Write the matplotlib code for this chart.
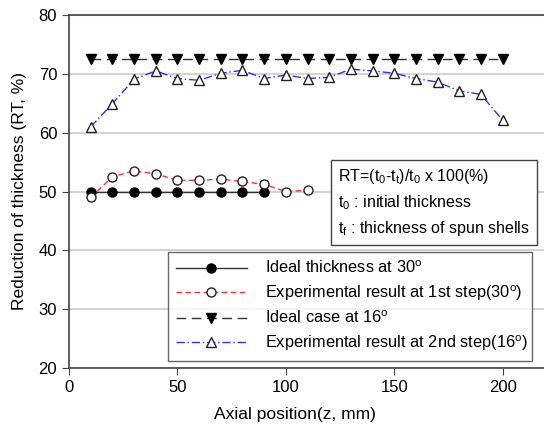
import matplotlib
matplotlib.use("Agg")
import matplotlib.pyplot as plt

plt.rcParams['font.family'] = ['Liberation Sans', 'DejaVu Sans']
plt.rcParams['mathtext.fontset'] = 'custom'
plt.rcParams['mathtext.rm'] = 'Liberation Sans'
plt.rcParams['mathtext.it'] = 'Liberation Sans:italic'

# axial positions (mm)
z_30 = [10, 20, 30, 40, 50, 60, 70, 80, 90]
ideal_30 = [50, 50, 50, 50, 50, 50, 50, 50, 50]

z_exp1 = [10, 20, 30, 40, 50, 60, 70, 80, 90, 100, 110]
exp_1st = [49.0, 52.5, 53.5, 53.0, 51.9, 51.9, 52.1, 51.7, 51.2, 50.0, 50.2]

z_16 = [10, 20, 30, 40, 50, 60, 70, 80, 90, 100,
        110, 120, 130, 140, 150, 160, 170, 180, 190, 200]
ideal_16 = [72.5] * 20
exp_2nd = [61.0, 64.9, 69.1, 70.5, 69.2, 68.9, 70.1, 70.6, 69.2, 69.8,
           69.2, 69.4, 70.8, 70.5, 70.1, 69.2, 68.6, 67.1, 66.5, 62.1]

labels = ['Ideal thickness at 30$^{\\mathrm{o}}$',
          'Experimental result at 1st step(30$^{\\mathrm{o}}$)',
          'Ideal case at 16$^{\\mathrm{o}}$',
          'Experimental result at 2nd step(16$^{\\mathrm{o}}$)']

fig = plt.figure(figsize=(5.44, 4.34), dpi=100)
ax = fig.add_axes([69/544, 1 - 368/434, 477/544, 353/434])

ax.plot(z_30, ideal_30, '-', color='#333333', lw=1, marker='o', ms=6.5,
        mfc='black', mec='black', label=labels[0], zorder=3)
ax.plot(z_exp1, exp_1st, '--', color='#ff3030', lw=1, dashes=(4, 2.5), marker='o', ms=6.5,
        mfc='white', mec='#222222', mew=1, label=labels[1], zorder=4)
ax.plot(z_16, ideal_16, '--', color='#333333', lw=1, dashes=(7, 4), marker='v', ms=6.5,
        mfc='black', mec='black', label=labels[2], zorder=3)
ax.plot(z_16, exp_2nd, '-.', color='#3030ff', lw=1, dashes=(6, 2, 1, 2), marker='^', ms=6.5,
        mfc='white', mec='#222222', mew=1, label=labels[3], zorder=4)

ax.set_xlim(0, 220)
ax.set_ylim(20, 80)
ax.set_xticks([0, 50, 100, 150, 200])
ax.set_yticks([20, 30, 40, 50, 60, 70, 80])
ax.yaxis.grid(True, color='#d4d4d4', lw=1.5)
ax.set_axisbelow(True)
for s in ['left', 'bottom', 'top', 'right']:
    ax.spines[s].set_color('#444444')
    ax.spines[s].set_linewidth(1.2)
ax.tick_params(direction='out', length=5, color='#444444', labelsize=12)

ax.set_xlabel('Axial position(z, mm)', fontsize=12.5)
ax.xaxis.set_label_coords(0.474, -0.11)
ax.set_ylabel('Reduction of thickness (RT, %)', fontsize=12.5, labelpad=8)

ax.legend(loc='lower left', bbox_to_anchor=(99/477, 0.02, 364/477, 0.33),
          mode='expand', fontsize=11.8, frameon=True, fancybox=False,
          edgecolor='#444444', handlelength=4.3, handletextpad=1.1,
          borderpad=0.5, labelspacing=0.42, borderaxespad=0)

ax.text(0.564, 0.368,
        'RT=(t$_{\\mathrm{0}}$-t$_{\\mathrm{t}}$)/t$_{\\mathrm{0}}$ x 100(%)\n'
        't$_{\\mathrm{0}}$ : initial thickness\n'
        't$_{\\mathrm{f}}$ : thickness of spun shells',
        transform=ax.transAxes, fontsize=11.5, va='bottom', ha='left', linespacing=1.5,
        bbox=dict(boxstyle='square,pad=0.45', fc='white', ec='#444444', lw=1))

fig.savefig('out.png', dpi=100)
